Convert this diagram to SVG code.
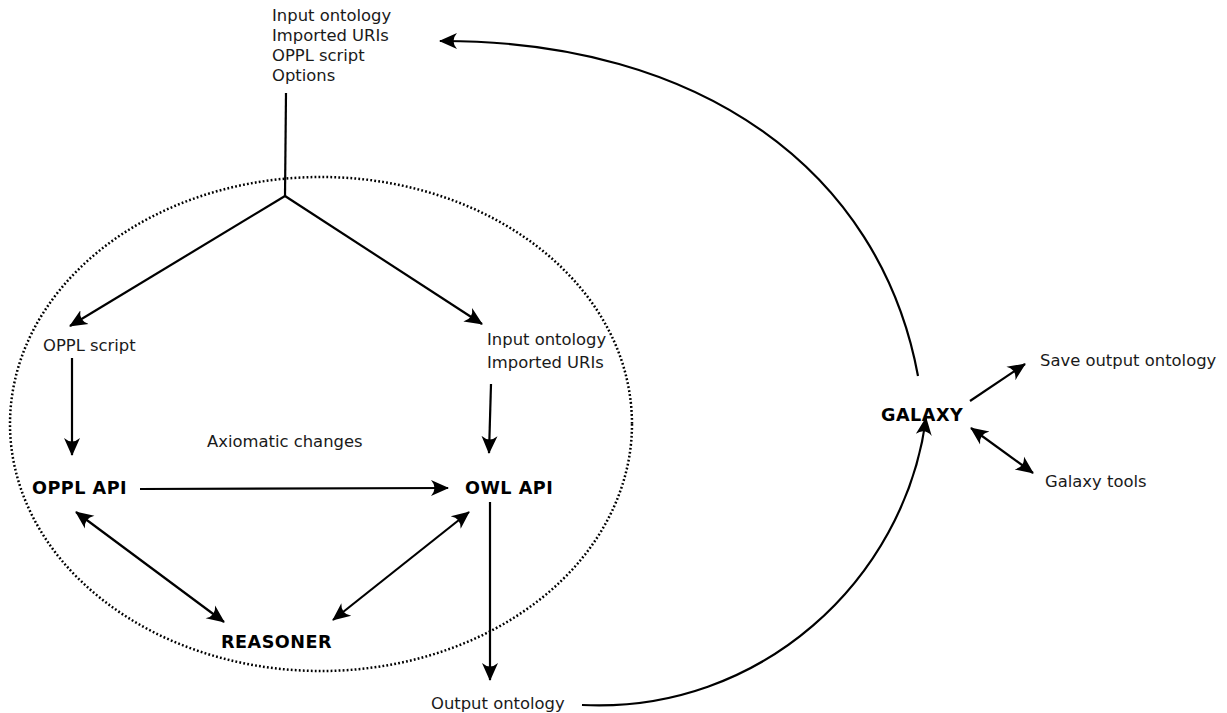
<svg xmlns="http://www.w3.org/2000/svg" width="1227" height="713" viewBox="0 0 1227 713">
<style>
.t{font-family:"DejaVu Sans",sans-serif;font-size:16.4px;fill:#1a1a1a}
.b{font-family:"DejaVu Sans",sans-serif;font-size:17.6px;font-weight:bold;fill:#000;letter-spacing:0.5px}
.c{fill:none;stroke:#000;stroke-width:2.2}
</style>
<defs>
<marker id="ah" viewBox="-5 -9 20 18" markerWidth="20" markerHeight="18" refX="12" refY="0" orient="auto" markerUnits="userSpaceOnUse">
<path d="M13,0 L-5,-8 Q2,0 -5,8 Z" fill="#000"/>
</marker>
<marker id="as" viewBox="-5 -9 20 18" markerWidth="20" markerHeight="18" refX="12" refY="0" orient="auto-start-reverse" markerUnits="userSpaceOnUse">
<path d="M13,0 L-5,-8 Q2,0 -5,8 Z" fill="#000"/>
</marker>
</defs>
<ellipse cx="321" cy="424" rx="311" ry="247" fill="none" stroke="#000" stroke-width="2.5" stroke-dasharray="1.8,2.2"/>
<g id="connectors">
<path class="c" d="M286,93 L285,196"/>
<path class="c" d="M285,196 L70,326" marker-end="url(#ah)"/>
<path class="c" d="M285,196 L482,324" marker-end="url(#ah)"/>
<path class="c" d="M72,358 L72,455" marker-end="url(#ah)"/>
<path class="c" d="M491,384 L489,453" marker-end="url(#ah)"/>
<path class="c" d="M140,489 L448,488" marker-end="url(#ah)"/>
<path class="c" d="M76,512 L224,622" marker-start="url(#as)" marker-end="url(#as)"/>
<path class="c" d="M469,512 L333,620" marker-start="url(#as)" marker-end="url(#as)"/>
<path class="c" d="M490,502 L490,680" marker-end="url(#ah)"/>
<path class="c" d="M582,705 C760,714 905,580 926,418" marker-end="url(#ah)"/>
<path class="c" d="M918,376 C880,170 700,40 440,41" marker-end="url(#ah)"/>
<path class="c" d="M970,401 L1025,364" marker-end="url(#ah)"/>
<path class="c" d="M971,428 L1033,473" marker-start="url(#as)" marker-end="url(#as)"/>
</g>
<g id="inputs"><text class="t" x="272" y="21">Input ontology</text><text class="t" x="272" y="41">Imported URIs</text><text class="t" x="272" y="61">OPPL script</text><text class="t" x="272" y="81">Options</text></g>
<g id="oppl-script"><text class="t" x="43" y="351">OPPL script</text></g>
<g id="input-owl"><text class="t" x="487" y="345">Input ontology</text><text class="t" x="487" y="368">Imported URIs</text></g>
<g id="oppl-api"><text class="b" x="32" y="494">OPPL API</text></g>
<g id="owl-api"><text class="b" x="465" y="494">OWL API</text></g>
<g id="axiomatic"><text class="t" x="207" y="447">Axiomatic changes</text></g>
<g id="reasoner"><text class="b" x="221" y="648">REASONER</text></g>
<g id="output"><text class="t" x="431" y="709">Output ontology</text></g>
<g id="galaxy"><text class="b" x="881" y="421">GALAXY</text></g>
<g id="save"><text class="t" x="1040" y="366">Save output ontology</text></g>
<g id="tools"><text class="t" x="1045" y="487">Galaxy tools</text></g>
</svg>
